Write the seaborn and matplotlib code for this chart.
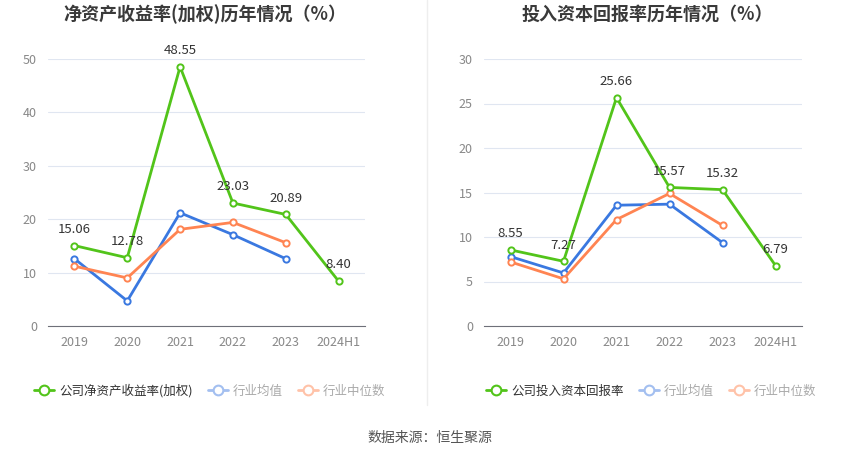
import numpy as np
import pandas as pd
import matplotlib.pyplot as plt
import seaborn as sns
from matplotlib.lines import Line2D

# ── data ─────────────────────────────────────────────
years = ['2019', '2020', '2021', '2022', '2023', '2024H1']

roe_company = [15.06, 12.78, 48.55, 23.03, 20.89, 8.40]
roe_ind_mean = [12.6, 4.7, 21.2, 17.1, 12.6, np.nan]
roe_ind_median = [11.2, 9.0, 18.1, 19.4, 15.6, np.nan]

roic_company = [8.55, 7.27, 25.66, 15.57, 15.32, 6.79]
roic_ind_mean = [7.8, 5.96, 13.57, 13.69, 9.37, np.nan]
roic_ind_median = [7.2, 5.3, 11.96, 14.89, 11.3, np.nan]

titles = ['净资产收益率(加权)历年情况（%）', '投入资本回报率历年情况（%）']
company_labels = ['公司净资产收益率(加权)', '公司投入资本回报率']

GREEN = '#52c41a'
BLUE = '#3a78e0'
ORANGE = '#ff8452'

sns.set_style('white')
plt.rcParams['font.family'] = ['Noto Sans CJK SC', 'DejaVu Sans']

fig = plt.figure(figsize=(8.5, 4.59), dpi=100)
W, H = 850, 459


def make_ax(x0, x1, y0, y1):
    return fig.add_axes([x0 / W, 1 - y1 / H, (x1 - x0) / W, (y1 - y0) / H])


def draw(ax, comp, mean, med, ymax, ystep):
    df = pd.DataFrame({'year': years, 'comp': comp, 'mean': mean, 'med': med})
    for col, c in [('comp', GREEN), ('mean', BLUE), ('med', ORANGE)]:
        sns.lineplot(data=df, x='year', y=col, ax=ax, color=c, lw=2,
                     marker='o', markersize=4.5, markerfacecolor='white',
                     markeredgecolor=c, markeredgewidth=1.4, sort=False,
                     zorder=3 if col == 'comp' else 2)
    for i, v in enumerate(comp):
        ax.annotate(f'{v:.2f}', (i, v), xytext=(0, 7), textcoords='offset points',
                    ha='center', va='bottom', fontsize=9.5, color='#333333', zorder=5)
    ax.set_xlim(-0.5, len(years) - 0.5)
    ax.set_ylim(0, ymax)
    ax.set_yticks(np.arange(0, ymax + 0.1, ystep))
    ax.grid(axis='y', color='#e0e6f1', lw=0.8)
    ax.set_axisbelow(True)
    for s in ['top', 'right', 'left']:
        ax.spines[s].set_visible(False)
    ax.spines['bottom'].set_color('#6e7079')
    ax.tick_params(axis='x', colors='#6e7079', labelcolor='#888888', labelsize=9,
                   length=4, direction='out')
    ax.tick_params(axis='y', length=0, labelcolor='#888888', labelsize=9, pad=8)
    ax.set_xlabel('')
    ax.set_ylabel('')


ax1 = make_ax(48, 365, 59, 326)
draw(ax1, roe_company, roe_ind_mean, roe_ind_median, 50, 10)
ax2 = make_ax(484, 802, 59, 326)
draw(ax2, roic_company, roic_ind_mean, roic_ind_median, 30, 5)

# titles
fig.text(205 / W, 1 - 14 / H, titles[0], ha='center', va='center',
         fontsize=13, fontweight='bold', color='#3a3a3a')
fig.text(647 / W, 1 - 14 / H, titles[1], ha='center', va='center',
         fontsize=13, fontweight='bold', color='#3a3a3a')

# divider
fig.add_artist(Line2D([427 / W, 427 / W], [1 - 405 / H, 1.0], color='#eeeeee', lw=1))


def legend(x, lab):
    handles = [
        Line2D([], [], color=GREEN, lw=2, marker='o', markersize=7,
               markerfacecolor='white', markeredgewidth=1.5),
        Line2D([], [], color='#a3bff0', lw=2, marker='o', markersize=7,
               markerfacecolor='white', markeredgewidth=1.5),
        Line2D([], [], color='#ffc2a8', lw=2, marker='o', markersize=7,
               markerfacecolor='white', markeredgewidth=1.5),
    ]
    leg = fig.legend(handles, [lab, '行业均值', '行业中位数'], loc='center left',
                     bbox_to_anchor=(x / W, 1 - 391 / H), ncol=3, frameon=False,
                     fontsize=9, handlelength=1.6, handletextpad=0.4,
                     columnspacing=1.2, borderaxespad=0, borderpad=0)
    cols = ['#333333', '#aaaaaa', '#aaaaaa']
    for t, c in zip(leg.get_texts(), cols):
        t.set_color(c)


legend(34, company_labels[0])
legend(486, company_labels[1])

fig.text(430 / W, 1 - 438 / H, '数据来源：恒生聚源', ha='center', va='center',
         fontsize=10, color='#555555')

fig.savefig('out.png', dpi=100)
